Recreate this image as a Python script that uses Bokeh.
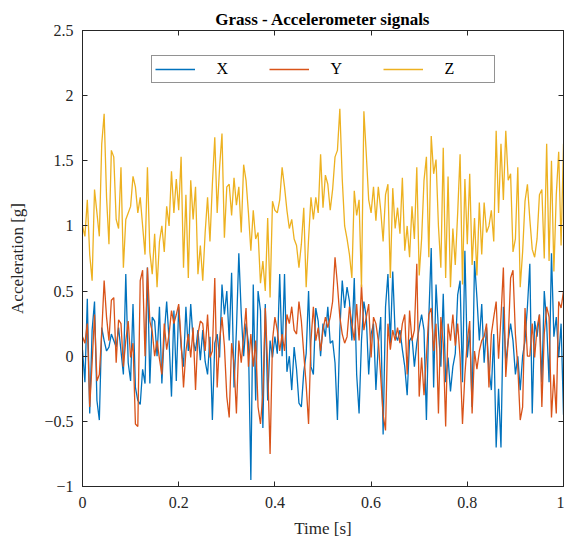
from bokeh.plotting import figure
from bokeh.models import LinearAxis, FixedTicker, CustomJSTickFormatter, Legend, LegendItem, Range1d
from bokeh.embed import file_html
from bokeh.resources import INLINE

N = 201
time_s = [i / (N - 1) for i in range(N)]

acc_x = [0.05, -0.20, 0.44, -0.44, 0.20, 0.42, -0.34, -0.49, 0.22, 0.12, 0.04, 0.07, 0.17, 0.12, 0.07, 0.22, 0.04, -0.14, 0.63, -0.05, -0.19, 0.40, -0.24, -0.34, -0.37, -0.10, -0.21, 0.68, -0.21, 0.30, 0.27, 0.00, 0.38, -0.21,
         0.17, 0.42, 0.12, -0.31, 0.35, -0.19, 0.38, 0.07, -0.08, 0.38, 0.04, 0.40, 0.12, 0.04, 0.20, -0.03, 0.20, -0.04, -0.14, 0.15, -0.49, 0.10, 0.17, -0.01, 0.55, 0.32, 0.50, 0.12, 0.64, -0.24, 0.20, 0.79, 0.33, 0.00,
         0.25, 0.10, -0.95, 0.55, -0.34, 0.50, 0.35, -0.55, 0.40, -0.34, 0.12, -0.01, 0.15, 0.02, 0.63, 0.00, 0.63, -0.12, 0.00, -0.26, 0.07, -0.10, -0.36, -0.39, -0.12, 0.02, 0.50, -0.08, -0.14, 0.37, 0.27, 0.00, 0.25,
         0.15, 0.38, 0.10, 0.12, -0.05, -0.49, 0.20, 0.58, 0.37, 0.53, 0.42, 0.12, 0.60, -0.14, -0.44, 0.12, 0.42, 0.30, -0.14, 0.17, 0.25, -0.26, 0.10, 0.30, -0.60, 0.38, 0.63, 0.10, 0.65, 0.17, 0.12, 0.20, 0.05,
         -0.08, -0.30, 0.12, 0.15, -0.08, 0.10, 0.22, 0.32, 0.20, -0.49, 0.30, 0.83, -0.24, 0.55, 0.20, -0.08, 0.48, -0.20, -0.01, -0.27, -0.08, 0.02, 0.47, 0.58, -0.20, 0.81, -0.01, 0.20, -0.39, 0.73, 0.45, 0.12, 0.40, -0.05,
         0.22, -0.10, -0.26, 0.17, -0.70, -0.25, -0.70, 0.38, -0.05, 0.12, 0.25, 0.12, -0.14, 0.00, -0.26, 0.00, 0.12, 0.38, 0.71, -0.44, 0.27, 0.15, 0.32, -0.20, 0.50, 0.25, -0.20, 0.79, 0.15, 0.30, -0.01, 0.25, -0.45]

acc_y = [0.15, 0.10, 0.25, -0.39, -0.05, 0.32, -0.19, -0.14, 0.18, 0.58, 0.30, 0.12, 0.43, 0.45, -0.05, 0.28, 0.25, -0.08, 0.12, 0.27, -0.01, 0.10, -0.52, -0.54, 0.58, 0.66, 0.00, 0.68, 0.27, 0.19, 0.00, 0.12, -0.02, -0.14,
         0.25, 0.05, 0.17, 0.35, 0.25, 0.32, 0.40, 0.12, -0.24, 0.04, 0.17, -0.01, 0.22, -0.26, 0.17, 0.27, 0.25, 0.04, 0.32, -0.01, 0.04, 0.60, -0.24, 0.12, 0.30, 0.08, -0.31, -0.47, 0.10, -0.06, -0.44, 0.12, -0.05, 0.15,
         0.37, -0.08, 0.17, -0.08, 0.12, -0.39, -0.52, -0.29, 0.37, -0.08, -0.75, 0.12, 0.30, 0.20, 0.04, 0.17, 0.04, 0.32, 0.25, 0.38, 0.20, 0.17, 0.42, 0.27, 0.02, -0.22, -0.52, 0.12, 0.38, 0.12, 0.22, 0.04, 0.20,
         0.30, 0.22, 0.30, 0.42, 0.76, 0.55, 0.30, 0.17, 0.10, 0.15, 0.38, 0.25, 0.12, 0.40, 0.12, 0.55, 0.20, 0.30, 0.40, -0.01, 0.30, 0.25, 0.12, -0.16, -0.45, -0.57, 0.25, 0.05, 0.20, 0.12, 0.22, 0.10, 0.25,
         0.32, -0.14, 0.35, 0.12, 0.20, 0.71, -0.31, -0.01, -0.30, 0.00, 0.32, 0.37, 0.04, 0.25, -0.44, 0.30, 0.10, -0.54, 0.25, 0.12, 0.32, 0.08, 0.25, -0.01, -0.52, -0.14, 0.12, 0.27, -0.44, 0.04, -0.10, 0.04, 0.12, 0.15,
         0.25, -0.24, 0.17, 0.30, 0.42, -0.02, 0.30, 0.68, -0.16, 0.12, 0.60, 0.66, 0.17, -0.08, -0.49, -0.39, 0.37, 0.00, 0.00, 0.25, -0.01, 0.22, 0.32, -0.39, 0.17, 0.38, 0.30, -0.47, -0.14, -0.44, 0.42, 0.37, 0.50]

acc_z = [1.00, 0.92, 1.20, 0.78, 0.58, 1.28, 1.10, 0.92, 1.63, 1.86, 1.22, 0.86, 1.58, 1.53, 1.05, 0.98, 1.45, 0.68, 1.05, 1.10, 1.15, 1.38, 1.30, 1.10, 1.22, 1.00, 0.78, 1.45, 0.80, 0.63, 0.94, 0.53, 0.88, 1.00,
         0.80, 1.15, 1.00, 1.42, 1.10, 1.36, 1.12, 1.53, 0.68, 1.24, 0.60, 1.35, 1.05, 1.30, 0.63, 0.85, 0.58, 0.95, 1.22, 0.88, 1.32, 1.68, 1.10, 1.45, 1.71, 0.91, 1.30, 1.32, 1.08, 1.37, 1.16, 1.30, 0.95, 1.47,
         1.35, 1.10, 0.81, 1.12, 0.90, 0.95, 0.56, 0.73, 0.50, 1.06, 0.45, 1.19, 1.12, 1.10, 1.20, 1.45, 1.30, 1.12, 0.98, 1.05, 0.90, 0.85, 0.68, 0.86, 1.14, 0.53, 0.90, 1.22, 1.05, 1.22, 1.10, 1.55, 1.14,
         1.39, 1.32, 1.12, 1.28, 1.53, 1.58, 1.90, 1.36, 1.00, 0.90, 0.78, 0.60, 1.27, 1.08, 1.20, 0.53, 1.88, 1.55, 1.20, 1.10, 1.30, 1.04, 1.30, 1.12, 0.88, 1.24, 1.32, 0.60, 1.29, 0.98, 1.14, 0.94, 1.37,
         0.81, 1.00, 0.76, 1.15, 0.90, 1.45, 0.62, 0.90, 1.35, 1.53, 0.76, 1.69, 1.40, 1.51, 1.00, 0.68, 1.60, 0.60, 1.38, 0.53, 0.98, 0.70, 1.10, 1.55, 0.55, 1.36, 0.86, 1.40, 0.70, 1.06, 0.62, 1.18, 0.78, 1.18,
         0.95, 1.00, 1.12, 0.88, 1.73, 1.10, 1.63, 1.20, 1.73, 1.35, 1.40, 0.80, 0.90, 1.45, 0.53, 0.80, 1.19, 1.32, 1.05, 0.82, 0.76, 0.90, 1.24, 1.28, 0.75, 1.63, 0.73, 1.50, 0.65, 1.24, 1.57, 0.85, 1.63]

series_names = ["X", "Y", "Z"]
series_colors = ["#0072BD", "#D95319", "#EDB120"]
x_ticks = [0, 0.2, 0.4, 0.6, 0.8, 1]
y_ticks = [-1, -0.5, 0, 0.5, 1, 1.5, 2, 2.5]

FONT = "Liberation Serif"
AX = "#262626"

p = figure(width=564, height=547, output_backend="svg", toolbar_location=None,
           x_range=Range1d(0, 1), y_range=Range1d(-1, 2.5),
           min_border_left=82, min_border_right=1, min_border_top=30, min_border_bottom=61,
           title="Grass - Accelerometer signals")
p.title.text_font = FONT
p.title.text_font_size = "17px"
p.title.text_font_style = "bold"
p.title.align = "center"
p.title.text_color = "#000000"
p.title.standoff = 3
p.grid.visible = False
p.outline_line_color = AX
p.background_fill_color = "white"
p.border_fill_color = "white"

fmt = CustomJSTickFormatter(code="return tick < 0 ? '\u2212' + String(Math.abs(tick)) : String(tick);")

def style_axis(ax, ticks, show_labels=True):
    ax.ticker = FixedTicker(ticks=ticks)
    ax.formatter = fmt
    ax.axis_line_color = AX
    ax.major_tick_line_color = AX
    ax.major_tick_in = 5
    ax.major_tick_out = 0
    ax.minor_tick_line_color = None
    ax.major_label_text_font = FONT
    ax.major_label_text_font_size = "16px"
    ax.major_label_text_color = "#262626"
    ax.axis_label_text_font = FONT
    ax.axis_label_text_font_size = "17px"
    ax.axis_label_text_font_style = "normal"
    ax.axis_label_text_color = "#262626"
    if not show_labels:
        ax.major_label_text_font_size = "0px"
        ax.major_label_text_color = None
        ax.major_label_standoff = 0
        ax.axis_label_standoff = 0

style_axis(p.xaxis[0], x_ticks)
style_axis(p.yaxis[0], y_ticks)
p.xaxis[0].axis_label = "Time [s]"
p.yaxis[0].axis_label = "Acceleration [g]"
p.xaxis[0].major_label_standoff = 10
p.yaxis[0].major_label_standoff = 9
p.xaxis[0].axis_label_standoff = 8
p.yaxis[0].axis_label_standoff = 14

top_ax = LinearAxis()
style_axis(top_ax, x_ticks, show_labels=False)
p.add_layout(top_ax, "above")
right_ax = LinearAxis()
style_axis(right_ax, y_ticks, show_labels=False)
p.add_layout(right_ax, "right")

renderers = []
for vals, name, col in zip([acc_x, acc_y, acc_z], series_names, series_colors):
    r = p.line(time_s, vals, line_color=col, line_width=1.3)
    renderers.append(r)

legend = Legend(items=[LegendItem(label=n, renderers=[r]) for n, r in zip(series_names, renderers)],
                orientation="horizontal", location="top_center", margin=25,
                glyph_width=40, label_standoff=22, label_width=46, label_height=18, spacing=6, padding=3,
                label_text_font=FONT, label_text_font_size="16px", label_text_color="#000000",
                border_line_color=AX, border_line_width=1, background_fill_alpha=1)
p.add_layout(legend)

open("out.html", "w").write(file_html(p, INLINE))
